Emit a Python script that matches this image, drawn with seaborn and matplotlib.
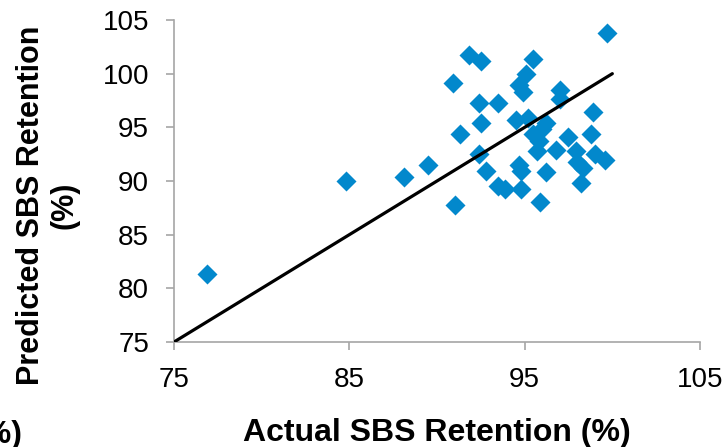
import matplotlib
matplotlib.use("Agg")
import matplotlib.pyplot as plt
import seaborn as sns
import pandas as pd

# Actual vs. predicted SBS retention (%)
actual = [76.9, 84.8, 88.1, 89.5, 99.7, 91.8, 92.5, 95.5, 90.9, 95.1,
          94.7, 94.9, 97.0, 97.0, 92.4, 93.5, 98.9, 92.5, 94.5, 95.2,
          91.3, 95.5, 96.2, 96.0, 97.5, 98.8, 95.8, 95.7, 96.8, 92.4,
          97.9, 98.0, 99.0, 99.6, 92.8, 94.7, 94.8, 96.2, 98.3, 93.5,
          93.9, 94.8, 98.2, 91.0, 95.9]
predicted = [81.3, 90.0, 90.4, 91.5, 103.8, 101.7, 101.2, 101.4, 99.1, 100.0,
             98.9, 98.3, 98.5, 97.6, 97.3, 97.3, 96.4, 95.4, 95.7, 95.9,
             94.4, 94.4, 95.4, 94.8, 94.1, 94.4, 93.7, 92.8, 92.9, 92.5,
             92.8, 91.8, 92.5, 92.0, 90.9, 91.5, 90.9, 90.8, 91.2, 89.5,
             89.3, 89.3, 89.8, 87.8, 88.0]

# 1:1 reference line
line_x = [75, 100]
line_y = [75, 100]

x_ticks = [75, 85, 95, 105]
y_ticks = [75, 80, 85, 90, 95, 100, 105]

sns.set_theme(style="white")
plt.rcParams["font.family"] = ["Liberation Sans", "DejaVu Sans"]

df = pd.DataFrame({"actual": actual, "predicted": predicted})
ref = pd.DataFrame({"x": line_x, "y": line_y})

fig = plt.figure(figsize=(7.23, 4.47), dpi=100)
ax = fig.add_axes([174 / 723, 1 - 342 / 447, (700 - 174) / 723, (342 - 20) / 447])

sns.scatterplot(data=df, x="actual", y="predicted", ax=ax, marker="D",
                s=104, color="#0288CC", linewidth=0, zorder=2)
sns.lineplot(data=ref, x="x", y="y", ax=ax, color="black", linewidth=2.3,
             zorder=3)

ax.set_xlim(75, 105)
ax.set_ylim(75, 105)
ax.set_xticks(x_ticks)
ax.set_yticks(y_ticks)
ax.set_xticklabels([str(t) for t in x_ticks])
ax.set_yticklabels([str(t) for t in y_ticks])

for side in ("top", "right"):
    ax.spines[side].set_visible(False)
for side in ("left", "bottom"):
    ax.spines[side].set_color("#A6A6A6")
    ax.spines[side].set_linewidth(1.2)

ax.tick_params(axis="both", which="major", direction="out", length=6,
               width=1.2, color="#A6A6A6", labelsize=20, labelcolor="black",
               pad=12, left=True, bottom=True)
for lbl in ax.get_xticklabels():
    lbl.set_clip_on(False)

ax.set_xlabel("Actual SBS Retention (%)", fontsize=23, fontweight="bold",
              color="black")
ax.xaxis.set_label_coords(0.5, -0.235)
ax.xaxis.label.set_va("top")

ax.set_ylabel("Predicted SBS Retention\n(%)", fontsize=22, fontweight="bold",
              color="black", linespacing=1.15, ha="center")
ax.yaxis.set_label_coords(-0.24, 0.425)
ax.yaxis.label.set_va("center")

# label fragment from the neighbouring panel at the lower left
fig.text(22 / 723, 1 - 420 / 447, "(%)", ha="right", va="top",
         fontsize=23, fontweight="bold", color="black")

fig.savefig("out.png", dpi=100)
